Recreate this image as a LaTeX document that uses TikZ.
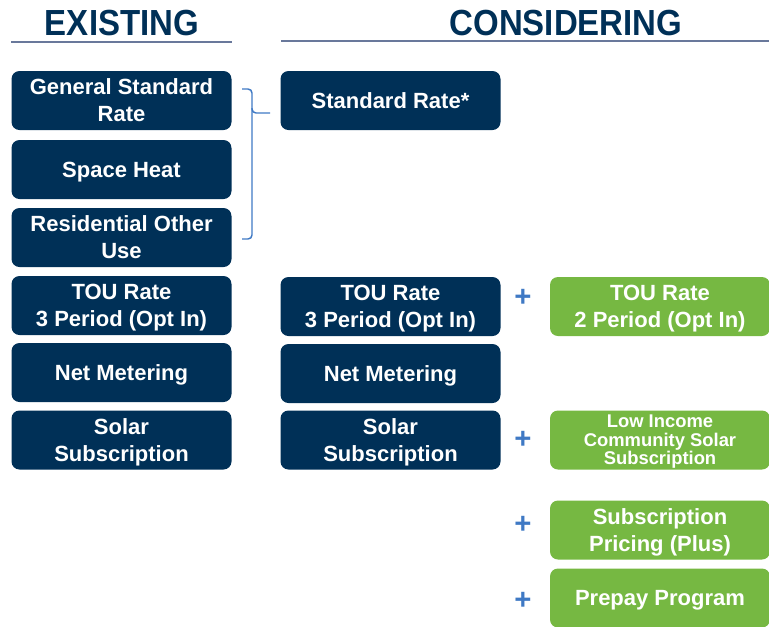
\documentclass[tikz,border=0pt]{standalone}
\usepackage{fontspec}
\setmainfont{Liberation Sans}
\usetikzlibrary{positioning}
\definecolor{navy}{RGB}{0,48,87}
\definecolor{leaf}{RGB}{118,184,66}
\definecolor{plusblue}{RGB}{63,121,196}
\definecolor{rulecol}{RGB}{105,120,155}

\begin{document}
\begin{tikzpicture}[x=0.75pt,y=-0.75pt,
	box/.style={fill=navy,text=white,rounded corners=6pt,minimum width=165pt,minimum height=44.25pt,
		align=center,inner sep=1pt,text depth=0pt,font=\fontsize{16.5}{20.25}\selectfont\bfseries},
	newbox/.style={box,fill=leaf},
	hdr/.style={text=navy,font=\fontsize{24.75}{30}\selectfont\bfseries,inner sep=0pt},
	plussign/.style={text=plusblue,font=\fontsize{22}{24}\selectfont\bfseries,inner sep=0pt},
	bracket/.style={draw=plusblue,line width=1.1pt,rounded corners=3pt}]
		\useasboundingbox (0,0) rectangle (769,626);
		% headers
		\node[hdr,yscale=1.1] (existing) at (122,23) {EXISTING};
		\node[hdr,yscale=1.1] (considering) at (566,23) {CONSIDERING};
		\draw[rulecol,line width=1.2pt] (11,42) -- (232,42);
		\draw[rulecol,line width=0.9pt] (281,41) -- (769,41);
		% existing rates
		\node[box] (gsr) at (121.5,100.5) {General Standard\\Rate};
		\node[box] (heat) at (121.5,169.5) {Space Heat};
		\node[box] (other) at (121.5,237.5) {Residential Other\\Use};
		\node[box] (tou) at (121.5,305.5) {TOU Rate\\3 Period (Opt In)};
		\node[box] (net) at (121.5,372.5) {Net Metering};
		\node[box] (solar) at (121.5,440) {Solar\\Subscription};
		% considering
		\node[box] (std) at (390.5,100.5) {Standard Rate*};
		\node[box] (toub) at (390.5,306.5) {TOU Rate\\3 Period (Opt In)};
		\node[box] (netb) at (390.5,373.5) {Net Metering};
		\node[box] (solarb) at (390.5,440) {Solar\\Subscription};
		% additions
		\node[newbox] (tou2) at (660,306.5) {TOU Rate\\2 Period (Opt In)};
		\node[newbox,font=\fontsize{13.8}{13.9}\selectfont\bfseries] (lowinc) at (660,440) {Low Income\\Community Solar\\Subscription};
		\node[newbox] (pricing) at (660,530) {Subscription\\Pricing (Plus)};
		\node[newbox] (prepay) at (660,598) {Prepay Program};
		\node[plussign] (plusa) at (523,298) {+};
		\node[plussign] (plusb) at (523,440) {+};
		\node[plussign] (plusc) at (523,525) {+};
		\node[plussign] (plusd) at (523,601) {+};
		% bracket into standard rate
		\draw[bracket] (242,89) -- (252,89) -- (252,113) -- (270,113);
		\draw[bracket] (252,108) -- (252,239) -- (242,239);
	\end{tikzpicture}
\end{document}
